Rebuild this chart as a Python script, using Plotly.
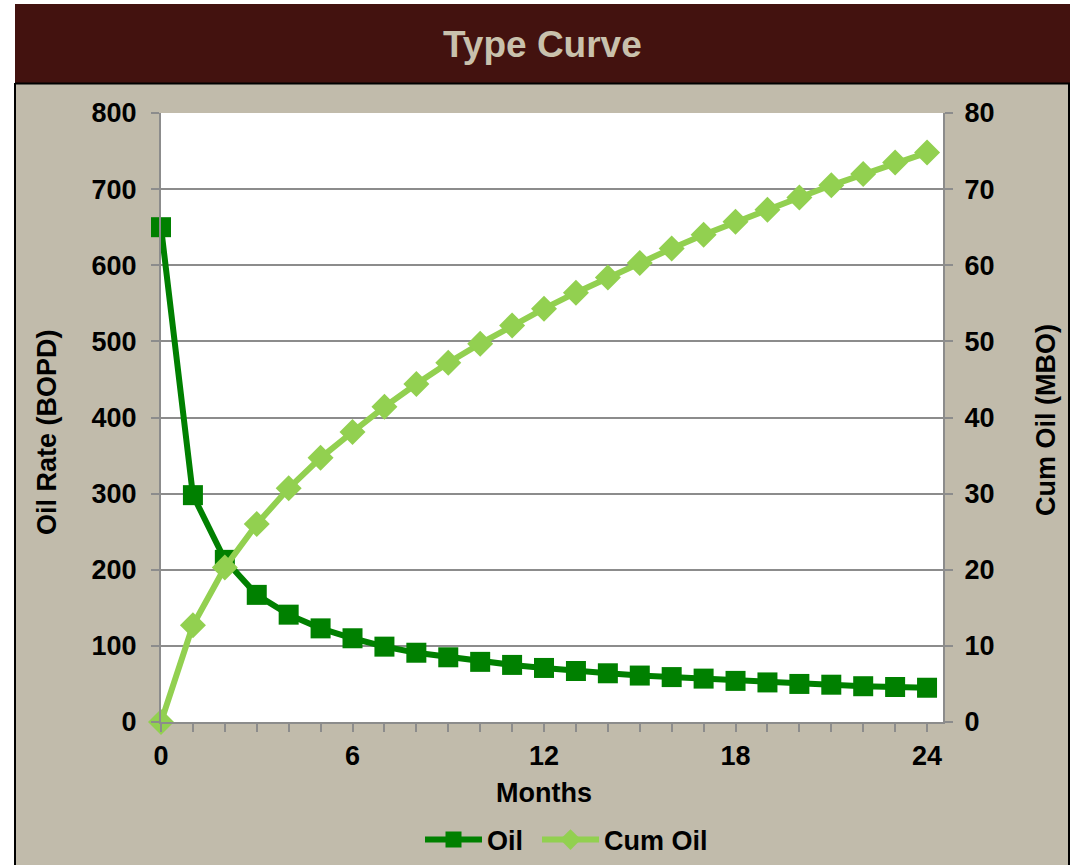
import plotly.graph_objects as go

# Monthly type curve data
months = list(range(0, 25))
oil_rate = [650, 298, 213, 167, 141, 123, 110, 99, 91, 85, 79, 75, 71, 67,
            64, 61, 59, 57, 54, 52, 50, 49, 47, 46, 45]
cum_oil = [0, 12.7, 20.3, 26.0, 30.7, 34.7, 38.1, 41.4, 44.4, 47.2, 49.7,
           52.1, 54.3, 56.4, 58.4, 60.3, 62.2, 64.0, 65.7, 67.3, 68.9,
           70.5, 72.0, 73.5, 74.8]
x_ticks = [0, 6, 12, 18, 24]

OIL_GREEN = "#008000"
CUM_GREEN = "#92D050"
FRAME_BG = "#C1BBAB"
BANNER = "#43120F"
GRID = "#8C8C8C"
FONT = "Liberation Sans, Arial, sans-serif"

W, H = 1071, 865
L, R, T, B = 161, 128, 113, 143
PW, PH = W - L - R, H - T - B


def px(x):
    return (x - L) / PW


def py(y):
    return (H - B - y) / PH


fig = go.Figure()

fig.add_trace(go.Scatter(
    x=months, y=oil_rate, name="Oil", mode="lines+markers",
    line=dict(color=OIL_GREEN, width=6),
    marker=dict(symbol="square", size=20, color=OIL_GREEN),
    cliponaxis=False, yaxis="y", legend="legend",
))
fig.add_trace(go.Scatter(
    x=months, y=cum_oil, name="Cum Oil", mode="lines+markers",
    line=dict(color=CUM_GREEN, width=6),
    marker=dict(symbol="diamond", size=20, color=CUM_GREEN),
    cliponaxis=False, yaxis="y2", legend="legend2",
))

tick_font = dict(family=FONT, size=27, color="black", weight="bold")
legend_style = dict(
    orientation="h", y=py(840), xanchor="left", yanchor="middle",
    font=dict(family=FONT, size=27, color="black", weight="bold"),
    bgcolor="rgba(0,0,0,0)", itemwidth=57,
)

fig.update_layout(
    width=W, height=H,
    margin=dict(l=L, r=R, t=T, b=B, autoexpand=False),
    paper_bgcolor=FRAME_BG,
    plot_bgcolor="white",
    showlegend=True,
    legend=dict(x=px(420), **legend_style),
    legend2=dict(x=px(537), **legend_style),
    xaxis=dict(
        range=[0, 24.5], tickvals=x_ticks, ticktext=[str(v) for v in x_ticks],
        showgrid=False, zeroline=False,
        showline=True, linecolor=GRID, linewidth=2,
        ticks="outside", ticklen=8, tickwidth=2, tickcolor=GRID,
        minor=dict(dtick=1, tick0=0, ticks="outside", ticklen=8, tickwidth=2,
                   tickcolor=GRID, showgrid=False),
        tickfont=tick_font, ticklabelstandoff=1,
    ),
    yaxis=dict(
        range=[0, 800], dtick=100, showgrid=True, gridcolor=GRID, gridwidth=2,
        zeroline=False, showline=True, linecolor=GRID, linewidth=2,
        ticks="outside", ticklen=8, tickwidth=2, tickcolor=GRID,
        tickfont=tick_font, ticklabelstandoff=9,
    ),
    yaxis2=dict(
        range=[0, 80], dtick=10, overlaying="y", side="right",
        showgrid=False, zeroline=False, showline=True, linecolor=GRID, linewidth=2,
        ticks="outside", ticklen=8, tickwidth=2, tickcolor=GRID,
        tickfont=tick_font, ticklabelstandoff=6,
    ),
)

# Frame: white margins, dark banner and thin black borders
shapes = [
    dict(type="rect", xref="paper", yref="paper", x0=px(-5), x1=px(15),
         y0=py(870), y1=py(-5), fillcolor="white", line_width=0, layer="below"),
    dict(type="rect", xref="paper", yref="paper", x0=px(-5), x1=px(1076),
         y0=py(4), y1=py(-5), fillcolor="white", line_width=0, layer="below"),
    dict(type="rect", xref="paper", yref="paper", x0=px(1070), x1=px(1076),
         y0=py(870), y1=py(-5), fillcolor="white", line_width=0, layer="below"),
    dict(type="rect", xref="paper", yref="paper", x0=px(15), x1=px(1070),
         y0=py(83), y1=py(4), fillcolor=BANNER, line_width=0, layer="below"),
    dict(type="line", xref="paper", yref="paper", x0=px(15), x1=px(1070),
         y0=py(83.5), y1=py(83.5), line=dict(color="black", width=2), layer="below"),
    dict(type="line", xref="paper", yref="paper", x0=px(15), x1=px(15),
         y0=py(83), y1=py(870), line=dict(color="black", width=2), layer="below"),
    dict(type="line", xref="paper", yref="paper", x0=px(1069), x1=px(1069),
         y0=py(83), y1=py(870), line=dict(color="black", width=2), layer="below"),
]
fig.update_layout(shapes=shapes)

title_font = dict(family=FONT, size=27, color="black", weight="bold")
fig.add_annotation(text="Type Curve", xref="paper", yref="paper",
                   x=px(542), y=py(45), xanchor="center", yanchor="middle",
                   showarrow=False,
                   font=dict(family=FONT, size=37, color="#C9C1AC", weight="bold"))
fig.add_annotation(text="Months", xref="paper", yref="paper",
                   x=px(544), y=py(793), xanchor="center", yanchor="middle",
                   showarrow=False, font=title_font)
fig.add_annotation(text="Oil Rate (BOPD)", xref="paper", yref="paper",
                   x=px(47), y=py(432), xanchor="center", yanchor="middle",
                   textangle=-90, showarrow=False, font=title_font)
fig.add_annotation(text="Cum Oil (MBO)", xref="paper", yref="paper",
                   x=px(1046), y=py(420), xanchor="center", yanchor="middle",
                   textangle=-90, showarrow=False, font=title_font)

fig.write_html("out.html")
